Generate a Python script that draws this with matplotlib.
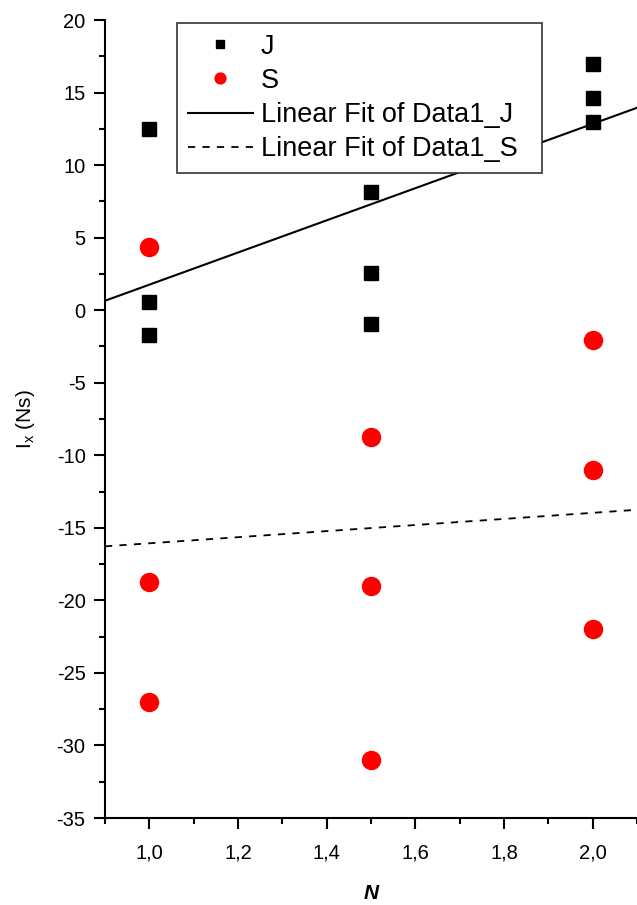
import numpy as np
import matplotlib
matplotlib.use('Agg')
from matplotlib import pyplot as plt
from matplotlib.ticker import MultipleLocator, FuncFormatter

plt.rcParams['font.family'] = ['Liberation Sans', 'DejaVu Sans']

# data
n_j = [1.0, 1.0, 1.0, 1.5, 1.5, 1.5, 2.0, 2.0, 2.0]
i_j = [12.5, 0.55, -1.7, 8.15, 2.55, -0.95, 17.0, 14.6, 13.0]
n_s = [1.0, 1.0, 1.0, 1.5, 1.5, 1.5, 2.0, 2.0, 2.0]
i_s = [4.35, -18.7, -27.0, -8.75, -19.0, -31.0, -2.05, -11.0, -22.0]

x_lim = (0.9, 2.1)
y_lim = (-35, 20)

fig = plt.figure(figsize=(6.37, 9.05), dpi=100)
ax = fig.add_axes([105/637, 1-818/905, 1-105/637, (818-20)/905])

ax.plot(n_j, i_j, 's', color='black', markersize=10.5, label='J', clip_on=False)
ax.plot(n_s, i_s, 'o', color='#ff0000', markersize=13, label='S', clip_on=False)

xx = np.array(x_lim)
kj = np.polyfit(n_j, i_j, 1)
ks = np.polyfit(n_s, i_s, 1)
ax.plot(xx, np.polyval(kj, xx), '-', color='black', lw=1.5, label='Linear Fit of Data1_J')
ax.plot(xx, np.polyval(ks, xx), color='black', lw=1.3, linestyle=(0, (4, 4)),
        label='Linear Fit of Data1_S')

ax.set_xlim(*x_lim)
ax.set_ylim(*y_lim)
ax.spines['top'].set_visible(False)
ax.spines['right'].set_visible(False)
for s in ['left', 'bottom']:
    ax.spines[s].set_linewidth(1.5)

ax.xaxis.set_major_locator(MultipleLocator(0.2))
ax.xaxis.set_minor_locator(MultipleLocator(0.1))
ax.yaxis.set_major_locator(MultipleLocator(5))
ax.yaxis.set_minor_locator(MultipleLocator(2.5))
ax.xaxis.set_major_formatter(FuncFormatter(lambda v, p: ('%.1f' % v).replace('.', ',')))
ax.yaxis.set_major_formatter(FuncFormatter(lambda v, p: '%d' % round(v)))
ax.tick_params(which='major', direction='out', length=8, width=1.5, labelsize=14.5, pad=6)
ax.tick_params(axis='x', which='major', pad=10)
ax.tick_params(which='minor', direction='out', length=4, width=1.5)

ax.set_xlabel('N', fontsize=15, fontweight='bold', fontstyle='italic', labelpad=16)
ax.set_ylabel(r'I$_\mathregular{x}$ (Ns)', fontsize=15, labelpad=14)

# legend box: x 177..542, y 23..171 px
leg = ax.legend(loc='upper left', mode='expand',
                bbox_to_anchor=(177/637, 1-171/905, 365/637, 148/905),
                bbox_transform=fig.transFigure, fontsize=19.5, markerscale=0.6,
                handlelength=2.4, handletextpad=0.3, borderaxespad=0,
                fancybox=False, framealpha=1, borderpad=0.4, labelspacing=0.3)
leg.get_frame().set_edgecolor('#333333')
leg.get_frame().set_linewidth(1.2)

plt.savefig('out.png', dpi=100)
